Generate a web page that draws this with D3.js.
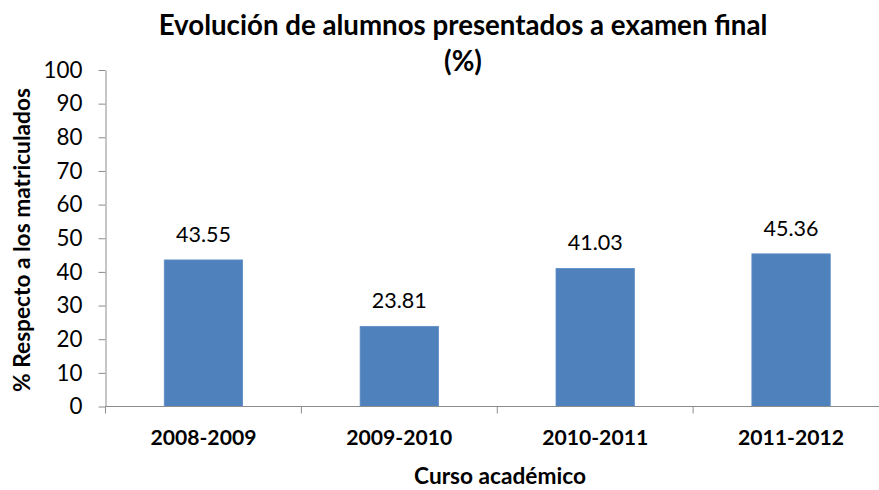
<!DOCTYPE html>
<html>
<head>
<meta charset="utf-8">
<script src="https://cdn.jsdelivr.net/npm/d3@7"></script>
<style>
  html, body { margin: 0; padding: 0; background: #fff; }
  svg { display: block; }
  text { font-family: Lato, "Open Sans", sans-serif; fill: #000; }
</style>
</head>
<body>
<svg id="chart" width="879" height="490"></svg>
<script>
const categories = ["2008-2009", "2009-2010", "2010-2011", "2011-2012"];
const values = [43.55, 23.81, 41.03, 45.36];
const yTicks = [0, 10, 20, 30, 40, 50, 60, 70, 80, 90, 100];
const titleLines = ["Evolución de alumnos presentados a examen final", "(%)"];
const xTitle = "Curso académico";
const yTitle = "% Respecto a los matriculados";

const svg = d3.select("#chart");
const axisColor = "#8c8c8c";

const y = d3.scaleLinear().domain([0, 100]).range([406.5, 70]);
const x = d3.scaleBand().domain(categories).range([105.5, 889])
  .paddingInner(0.6).paddingOuter(0.3);

function fit(sel, target) {
  const node = sel.node();
  const fs = parseFloat(sel.style("font-size"));
  const len = node.getComputedTextLength();
  sel.style("font-size", (fs * target / len) + "px");
}

// Bars
svg.append("g").selectAll("rect").data(values).join("rect")
  .attr("x", (d, i) => x(categories[i]))
  .attr("y", d => y(d))
  .attr("width", x.bandwidth())
  .attr("height", d => y(0) - y(d))
  .attr("fill", "#4f81bd")
  .attr("stroke", "#5b8cc6")
  .attr("stroke-width", 0.8);

// Y axis
const yAxis = svg.append("g").attr("transform", "translate(105.5,0)")
  .call(d3.axisLeft(y).tickValues(yTicks).tickSize(7).tickSizeOuter(0).tickPadding(16));
yAxis.select(".domain").attr("stroke", axisColor);
yAxis.selectAll(".tick line").attr("stroke", axisColor);
yAxis.selectAll(".tick text").style("font-family", "Lato, sans-serif").style("font-size", "22.4px").attr("fill", "#111");

// X axis
const boundaries = categories.map(c => x(c) - x.step() * x.paddingOuter()).concat([x.range()[1]]);
const xg = svg.append("g");
xg.append("line").attr("x1", x.range()[0]).attr("x2", x.range()[1])
  .attr("y1", y(0)).attr("y2", y(0)).attr("stroke", axisColor);
xg.selectAll("line.tk").data(boundaries).join("line").attr("class", "tk")
  .attr("x1", d => d).attr("x2", d => d)
  .attr("y1", y(0)).attr("y2", y(0) + 7).attr("stroke", axisColor);
xg.selectAll("text").data(categories).join("text")
  .attr("x", d => x(d) + x.bandwidth() / 2)
  .attr("y", 445)
  .attr("text-anchor", "middle")
  .style("font-weight", "bold").style("font-size", "20px")
  .text(d => d)
  .each(function () { fit(d3.select(this), 106); });

// Value labels
svg.append("g").selectAll("text").data(values).join("text")
  .attr("x", (d, i) => x(categories[i]) + x.bandwidth() / 2)
  .attr("y", d => y(d) - 18)
  .attr("text-anchor", "middle")
  .style("font-size", "20px").attr("fill", "#111")
  .text(d => d3.format(".2f")(d))
  .each(function () { fit(d3.select(this), 55); });

// Title
const t1 = svg.append("text").attr("x", 463).attr("y", 35).attr("text-anchor", "middle")
  .style("font-weight", "bold").style("font-size", "26px").text(titleLines[0]);
fit(t1, 609);
const t2 = svg.append("text").attr("x", 463).attr("y", 71).attr("text-anchor", "middle")
  .style("font-weight", "bold").style("font-size", t1.style("font-size")).text(titleLines[1]);

// Axis titles
const xt = svg.append("text").attr("x", 500).attr("y", 484).attr("text-anchor", "middle")
  .style("font-weight", "bold").style("font-size", "20px").text(xTitle);
fit(xt, 172);
const yt = svg.append("text").attr("transform", "translate(30,240) rotate(-90)")
  .attr("text-anchor", "middle")
  .style("font-weight", "bold").style("font-size", "20px").text(yTitle);
fit(yt, 304);
</script>
</body>
</html>
